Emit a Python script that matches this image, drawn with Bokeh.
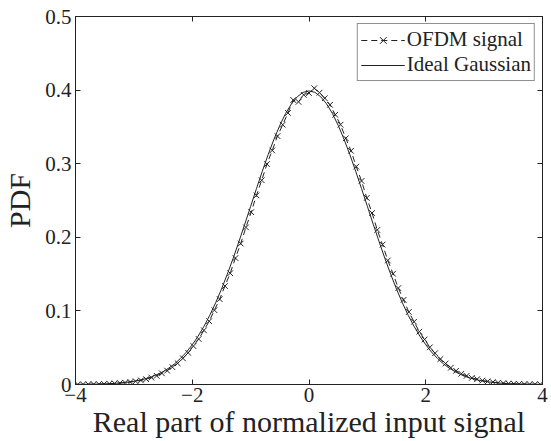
from bokeh.plotting import figure
from bokeh.models import LinearAxis, FixedTicker, CustomJSTickFormatter, Range1d, Legend, LegendItem
from bokeh.embed import file_html
from bokeh.resources import INLINE

# Ideal Gaussian PDF, sampled every 0.1 from -4 to 4
gauss_x = [-4.0, -3.9, -3.8, -3.7, -3.6, -3.5, -3.4, -3.3, -3.2, -3.1, -3.0, -2.9, -2.8, -2.7,
           -2.6, -2.5, -2.4, -2.3, -2.2, -2.1, -2.0, -1.9, -1.8, -1.7, -1.6, -1.5, -1.4, -1.3,
           -1.2, -1.1, -1.0, -0.9, -0.8, -0.7, -0.6, -0.5, -0.4, -0.3, -0.2, -0.1, 0.0,
           0.1, 0.2, 0.3, 0.4, 0.5, 0.6, 0.7, 0.8, 0.9, 1.0, 1.1, 1.2, 1.3, 1.4, 1.5, 1.6,
           1.7, 1.8, 1.9, 2.0, 2.1, 2.2, 2.3, 2.4, 2.5, 2.6, 2.7, 2.8, 2.9, 3.0, 3.1, 3.2,
           3.3, 3.4, 3.5, 3.6, 3.7, 3.8, 3.9, 4.0]
gauss_y = [0.0001, 0.0002, 0.0003, 0.0004, 0.0006, 0.0009, 0.0012, 0.0017, 0.0024, 0.0033,
           0.0044, 0.0060, 0.0079, 0.0104, 0.0136, 0.0175, 0.0224, 0.0283, 0.0355, 0.0440,
           0.0540, 0.0656, 0.0790, 0.0940, 0.1109, 0.1295, 0.1497, 0.1714, 0.1942, 0.2179,
           0.2420, 0.2661, 0.2897, 0.3123, 0.3332, 0.3521, 0.3683, 0.3814, 0.3910, 0.3970,
           0.3989,
           0.3970, 0.3910, 0.3814, 0.3683, 0.3521, 0.3332, 0.3123, 0.2897, 0.2661, 0.2420,
           0.2179, 0.1942, 0.1714, 0.1497, 0.1295, 0.1109, 0.0940, 0.0790, 0.0656, 0.0540,
           0.0440, 0.0355, 0.0283, 0.0224, 0.0175, 0.0136, 0.0104, 0.0079, 0.0060, 0.0044,
           0.0033, 0.0024, 0.0017, 0.0012, 0.0009, 0.0006, 0.0004, 0.0003, 0.0002, 0.0001]

# OFDM signal histogram estimate
ofdm_x = [-3.96, -3.87, -3.78, -3.69, -3.60, -3.51, -3.42, -3.33, -3.24, -3.15, -3.06, -2.97,
          -2.88, -2.79, -2.70, -2.61, -2.52, -2.43, -2.34, -2.25, -2.16, -2.07, -1.98, -1.89,
          -1.80, -1.71, -1.62, -1.53, -1.44, -1.35, -1.26, -1.17, -1.08, -0.99, -0.90, -0.81,
          -0.72, -0.63, -0.54, -0.45, -0.36, -0.27, -0.18, -0.09, 0.00, 0.09, 0.18, 0.27,
          0.36, 0.45, 0.54, 0.63, 0.72, 0.81, 0.90, 0.99, 1.08, 1.17, 1.26, 1.35, 1.44, 1.53,
          1.62, 1.71, 1.80, 1.89, 1.98, 2.07, 2.16, 2.25, 2.34, 2.43, 2.52, 2.61, 2.70, 2.79,
          2.88, 2.97, 3.06, 3.15, 3.24, 3.33, 3.42, 3.51, 3.60, 3.69, 3.78, 3.87, 3.96]
ofdm_y = [0.0001, 0.0002, 0.0003, 0.0004, 0.0005, 0.0007, 0.0010, 0.0014, 0.0019, 0.0025,
          0.0033, 0.0044, 0.0056, 0.0072, 0.0094, 0.0118, 0.0152, 0.0188, 0.0236, 0.0288,
          0.0356, 0.0430, 0.0522, 0.0618, 0.0736, 0.0860, 0.1010, 0.1160, 0.1338, 0.1512,
          0.1718, 0.1915, 0.2135, 0.2342, 0.2570, 0.2775, 0.2995, 0.3180, 0.3375, 0.3530,
          0.3690, 0.3865, 0.3840, 0.3935, 0.3960, 0.4025, 0.3965, 0.3890, 0.3800, 0.3665,
          0.3530, 0.3345, 0.3175, 0.2960, 0.2765, 0.2535, 0.2330, 0.2100, 0.1900, 0.1685,
          0.1505, 0.1310, 0.1150, 0.0985, 0.0852, 0.0718, 0.0612, 0.0505, 0.0425, 0.0345,
          0.0285, 0.0228, 0.0186, 0.0146, 0.0117, 0.0090, 0.0072, 0.0054, 0.0043, 0.0032,
          0.0024, 0.0018, 0.0013, 0.0010, 0.0007, 0.0005, 0.0004, 0.0003, 0.0002]

x_ticks = [-4, -2, 0, 2, 4]
y_ticks = [0, 0.1, 0.2, 0.3, 0.4, 0.5]

FONT = "Liberation Serif"
INK = "#222222"

p = figure(width=551, height=441, output_backend="svg", toolbar_location=None,
           x_range=Range1d(-4, 4), y_range=Range1d(0, 0.5),
           min_border_left=75, min_border_right=9, min_border_top=16, min_border_bottom=57,
           x_axis_label="Real part of normalized input signal", y_axis_label="PDF")
p.background_fill_color = "white"
p.border_fill_color = "white"
p.outline_line_color = INK
p.outline_line_width = 1
p.xgrid.visible = False
p.ygrid.visible = False

xfmt = CustomJSTickFormatter(code="return tick < 0 ? '\u2212' + Math.abs(tick) : String(tick);")
yfmt = CustomJSTickFormatter(code="return tick === 0 ? '0' : tick.toFixed(1);")
blank = CustomJSTickFormatter(code="return '';")

for ax, ticks, fmt in ((p.xaxis[0], x_ticks, xfmt), (p.yaxis[0], y_ticks, yfmt)):
    ax.ticker = FixedTicker(ticks=ticks)
    ax.formatter = fmt
    ax.major_tick_in = 5
    ax.major_tick_out = 0
    ax.minor_tick_line_color = None
    ax.axis_line_color = INK
    ax.major_tick_line_color = INK
    ax.major_label_text_font = FONT
    ax.major_label_text_font_size = "21px"
    ax.major_label_text_color = INK
    ax.axis_label_text_font = FONT
    ax.axis_label_text_font_size = "30px"
    ax.axis_label_text_font_style = "normal"
    ax.axis_label_text_color = INK

p.xaxis[0].major_label_standoff = 3
p.xaxis[0].axis_label_standoff = 0
p.yaxis[0].major_label_standoff = 4
p.yaxis[0].axis_label_standoff = 6

top = LinearAxis(ticker=FixedTicker(ticks=x_ticks), formatter=blank,
                 major_tick_in=5, major_tick_out=0, minor_tick_line_color=None,
                 axis_line_color=INK, major_tick_line_color=INK, major_label_standoff=0)
right = LinearAxis(ticker=FixedTicker(ticks=y_ticks), formatter=blank,
                   major_tick_in=5, major_tick_out=0, minor_tick_line_color=None,
                   axis_line_color=INK, major_tick_line_color=INK, major_label_standoff=0)
p.add_layout(top, "above")
p.add_layout(right, "right")

g_line = p.line(gauss_x, gauss_y, line_color=INK, line_width=1)
o_line = p.line(ofdm_x, ofdm_y, line_color=INK, line_width=1, line_dash="6 4")
o_pts = p.scatter(ofdm_x, ofdm_y, marker="x", size=8, line_color=INK, line_width=1)

legend = Legend(items=[LegendItem(label="OFDM signal", renderers=[o_line, o_pts]),
                       LegendItem(label="Ideal Gaussian", renderers=[g_line])],
                location="top_right")
legend.label_text_font = FONT
legend.label_text_font_size = "21px"
legend.label_text_color = INK
legend.border_line_color = INK
legend.border_line_width = 1
legend.background_fill_alpha = 1
legend.margin = 7
legend.padding = 3
legend.spacing = 0
legend.glyph_width = 44
legend.label_standoff = 2
legend.label_height = 24
legend.glyph_height = 24
p.add_layout(legend)

open("out.html", "w").write(file_html(p, INLINE))
